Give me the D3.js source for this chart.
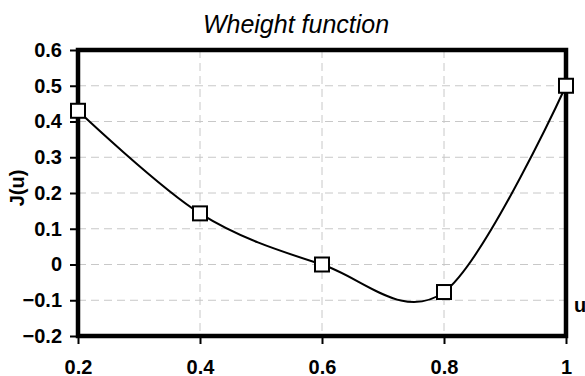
<!DOCTYPE html>
<html>
<head>
<meta charset="utf-8">
<script src="https://cdn.jsdelivr.net/npm/d3@7"></script>
<style>
  body { margin: 0; background: #fff; }
  svg { display: block; font-family: Arial, "Liberation Sans", sans-serif; }
</style>
</head>
<body>
<div id="chart"></div>
<script>
// data
const uValues = [0.2, 0.4, 0.6, 0.8, 1];
const jValues = [0.43, 0.143, 0, -0.077, 0.5];
const xTicks = [0.2, 0.4, 0.6, 0.8, 1];
const yTicks = [-0.2, -0.1, 0, 0.1, 0.2, 0.3, 0.4, 0.5, 0.6];

const width = 585, height = 376;
const plotLeft = 78, plotRight = 566, plotTop = 50, plotBottom = 336;

const svg = d3.select('#chart')
  .append('svg')
  .attr('width', width)
  .attr('height', height);

const x = d3.scaleLinear().domain([0.2, 1]).range([plotLeft, plotRight]);
const y = d3.scaleLinear().domain([-0.2, 0.6]).range([plotBottom, plotTop]);

// grid
svg.append('g')
  .selectAll('line')
  .data(xTicks.slice(1, -1))
  .enter()
  .append('line')
  .attr('x1', d => x(d)).attr('x2', d => x(d))
  .attr('y1', plotTop).attr('y2', plotBottom)
  .attr('stroke', '#c8c8c8')
  .attr('stroke-dasharray', '8,5');

svg.append('g')
  .selectAll('line')
  .data(yTicks.slice(1, -1))
  .enter()
  .append('line')
  .attr('x1', plotLeft).attr('x2', plotRight)
  .attr('y1', d => y(d)).attr('y2', d => y(d))
  .attr('stroke', '#c8c8c8')
  .attr('stroke-dasharray', '8,5');

// axes
const yAxis = svg.append('g')
  .attr('transform', 'translate(' + plotLeft + ',0)')
  .call(d3.axisLeft(y).tickValues(yTicks).tickSize(8).tickPadding(8)
    .tickFormat(d => Math.abs(d) < 1e-9 ? '0' : d3.format('.1f')(d)));

const xAxis = svg.append('g')
  .attr('transform', 'translate(0,' + plotBottom + ')')
  .call(d3.axisBottom(x).tickValues(xTicks).tickSize(8).tickPadding(16)
    .tickFormat(d => d === 1 ? '1' : d3.format('.1f')(d)));

[yAxis, xAxis].forEach(a => {
  a.select('.domain').remove();
  a.selectAll('.tick line').attr('stroke', '#000').attr('stroke-width', 2);
  a.selectAll('.tick text')
    .attr('fill', '#000')
    .style('font-size', '20px')
    .style('font-weight', 'bold')
    .style('font-family', 'Arial, "Liberation Sans", sans-serif');
});

// frame
svg.append('rect')
  .attr('x', plotLeft).attr('y', plotTop)
  .attr('width', plotRight - plotLeft).attr('height', plotBottom - plotTop)
  .attr('fill', 'none')
  .attr('stroke', '#000')
  .attr('stroke-width', 4.5);

// smoothed line
const line = d3.line()
  .x((d, i) => x(uValues[i]))
  .y(d => y(d))
  .curve(d3.curveCardinal.tension(0));

svg.append('path')
  .attr('d', line(jValues))
  .attr('fill', 'none')
  .attr('stroke', '#000')
  .attr('stroke-width', 2);

// markers
svg.selectAll('rect.pt')
  .data(jValues)
  .enter()
  .append('rect')
  .attr('class', 'pt')
  .attr('x', (d, i) => x(uValues[i]) - 7)
  .attr('y', d => y(d) - 7)
  .attr('width', 14).attr('height', 14)
  .attr('fill', '#fff')
  .attr('stroke', '#000')
  .attr('stroke-width', 2);

// titles
svg.append('text')
  .attr('x', 296).attr('y', 33)
  .attr('text-anchor', 'middle')
  .style('font-size', '25px')
  .style('font-style', 'italic')
  .text('Wheight function');

svg.append('text')
  .attr('transform', 'translate(24,188) rotate(-90)')
  .attr('text-anchor', 'middle')
  .style('font-size', '20px')
  .style('font-weight', 'bold')
  .text('J(u)');

svg.append('text')
  .attr('x', 574).attr('y', 312)
  .style('font-size', '20px')
  .style('font-weight', 'bold')
  .text('u');
</script>
</body>
</html>
